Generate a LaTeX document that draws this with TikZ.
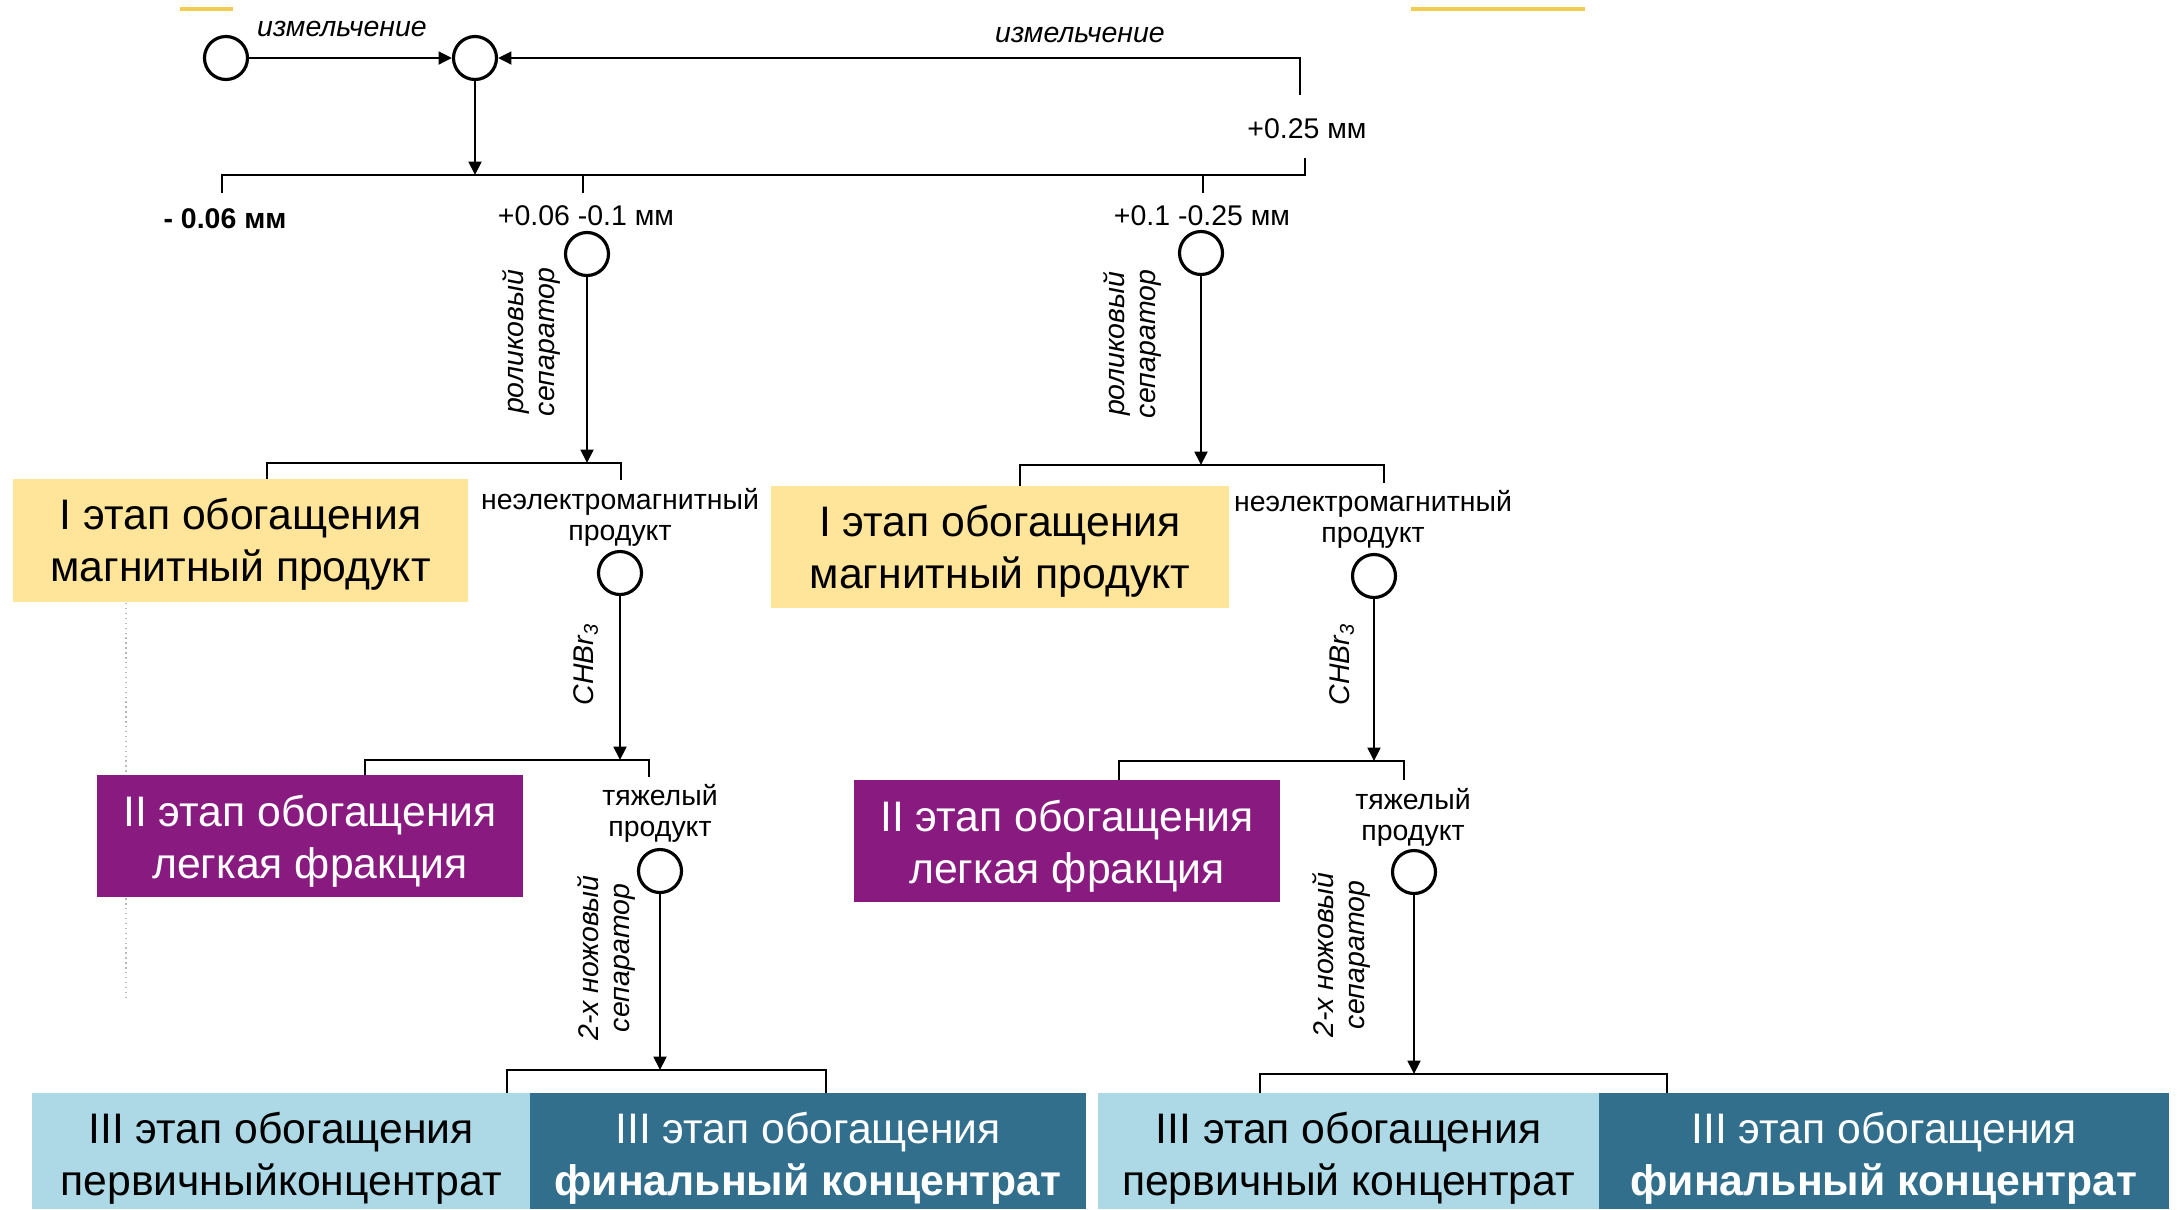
\documentclass[tikz,border=0pt]{standalone}
\usepackage{fontspec}
\setmainfont{Liberation Sans}
\usetikzlibrary{arrows.meta}

\definecolor{stageone}{RGB}{255,229,153}
\definecolor{stagetwo}{RGB}{137,26,128}
\definecolor{stagethreea}{RGB}{173,216,230}
\definecolor{stagethreeb}{RGB}{49,111,140}
\definecolor{cropmark}{RGB}{240,204,80}
\newcommand{\lblfont}{\fontsize{8.1}{8.8}\selectfont}
\newcommand{\stagefont}{\fontsize{12.15}{14.8}\selectfont}

\begin{document}
\begin{tikzpicture}[
    line width=0.8pt,
    pt/.style={shape=circle, draw=black, line width=0.9pt, minimum size=0.43cm, inner sep=0pt},
    flow/.style={-{Triangle[length=3.8pt,width=3.6pt]}},
    lbl/.style={font=\lblfont, align=center, inner sep=0pt},
    op/.style={font=\lblfont\itshape, align=center, inner sep=0pt, rotate=90},
    stage/.style={shape=rectangle, inner sep=0pt},
    stagetxt/.style={align=center, inner sep=0pt, font=\stagefont},
]
	\useasboundingbox (0,0) rectangle (21.77,-12.09);

	\draw[cropmark, line width=1pt] (1.80,-0.09) -- (2.33,-0.09);
	\draw[cropmark, line width=1pt] (14.11,-0.09) -- (15.85,-0.09);
	\draw[gray!55, line width=0.4pt, densely dotted] (1.26,-6.03) -- (1.26,-10.00);

	\node[pt] (cA) at (2.26,-0.58) {};
	\node[pt] (cB) at (4.75,-0.58) {};
	\node[lbl, font=\lblfont\itshape] (grind1) at (3.42,-0.29) {измельчение};
	\node[lbl, font=\lblfont\itshape] (grind2) at (10.80,-0.35) {измельчение};
	\coordinate (rt) at (13.00,-0.58);
	\coordinate (rb) at (13.00,-0.95);
	\path [flow] (cA) edge (cB);
	\draw [flow] (rb) -- (rt) -- (cB);

	\node[lbl] (coarse) at (13.07,-1.29) {+0.25 мм};
	\coordinate (split) at (4.75,-1.75);
	\coordinate (fineL) at (2.22,-1.93);
	\coordinate (coarseR) at (13.05,-1.58);
	\draw [flow] (cB) -- (split);
	\draw (fineL) |- (coarseR |- split) -- (coarseR);
	\draw (5.83,-1.75) -- (5.83,-1.93);
	\draw (12.03,-1.75) -- (12.03,-1.93);
	\node[lbl, font=\lblfont\bfseries] (fine) at (2.25,-2.19) {- 0.06 мм};
	\node[lbl] (midA) at (5.86,-2.16) {+0.06 -0.1 мм};
	\node[lbl] (midB) at (12.02,-2.16) {+0.1 -0.25 мм};

	% left branch
	\node[pt] (c1) at (5.87,-2.54) {};
	\node[op] at (5.31,-3.42) {роликовый\\сепаратор};
	\coordinate (s1) at (5.87,-4.63);
	\draw [flow] (c1) -- (s1);
	\node[stage, fill=stageone, minimum width=4.55cm, minimum height=1.23cm,
	      label={[stagetxt, yshift=-0.04cm]center:{I этап обогащения\\магнитный продукт}}] (y1) at (2.405,-5.405) {};
	\draw (2.67,-4.79) |- (6.21,-4.63) -- (6.21,-4.80);
	\node[lbl] (ne1) at (6.20,-5.17) {неэлектромагнитный\\продукт};
	\node[pt] (c3) at (6.20,-5.73) {};
	\node[op] at (5.86,-6.64) {CHBr\textsubscript{3}};
	\coordinate (s3) at (6.20,-7.60);
	\draw [flow] (c3) -- (s3);
	\node[stage, fill=stagetwo, minimum width=4.26cm, minimum height=1.22cm,
	      label={[stagetxt, text=white, yshift=-0.05cm]center:{II этап обогащения\\легкая фракция}}] (p1) at (3.10,-8.36) {};
	\draw (3.65,-7.75) |- (6.49,-7.60) -- (6.49,-7.77);
	\node[lbl] (hv1) at (6.60,-8.13) {тяжелый\\продукт};
	\node[pt] (c4) at (6.60,-8.71) {};
	\node[op] at (6.06,-9.58) {2-х ножовый\\сепаратор};
	\coordinate (s4) at (6.60,-10.70);
	\draw [flow] (c4) -- (s4);
	\draw (5.07,-10.93) |- (8.26,-10.70) -- (8.26,-10.93);

	% right branch
	\node[pt] (c2) at (12.01,-2.53) {};
	\node[op] at (11.32,-3.44) {роликовый\\сепаратор};
	\coordinate (s2) at (12.01,-4.65);
	\draw [flow] (c2) -- (s2);
	\node[stage, fill=stageone, minimum width=4.58cm, minimum height=1.22cm,
	      label={[stagetxt, yshift=-0.04cm]center:{I этап обогащения\\магнитный продукт}}] (y2) at (10.00,-5.47) {};
	\draw (10.20,-4.86) |- (13.84,-4.65) -- (13.84,-4.83);
	\node[lbl] (ne2) at (13.73,-5.19) {неэлектромагнитный\\продукт};
	\node[pt] (c5) at (13.74,-5.76) {};
	\node[op] at (13.42,-6.64) {CHBr\textsubscript{3}};
	\coordinate (s5) at (13.74,-7.61);
	\draw [flow] (c5) -- (s5);
	\node[stage, fill=stagetwo, minimum width=4.26cm, minimum height=1.22cm,
	      label={[stagetxt, text=white, yshift=-0.05cm]center:{II этап обогащения\\легкая фракция}}] (p2) at (10.67,-8.41) {};
	\draw (11.19,-7.80) |- (14.04,-7.61) -- (14.04,-7.80);
	\node[lbl] (hv2) at (14.13,-8.17) {тяжелый\\продукт};
	\node[pt] (c6) at (14.14,-8.72) {};
	\node[op] at (13.41,-9.55) {2-х ножовый\\сепаратор};
	\coordinate (s6) at (14.14,-10.74);
	\draw [flow] (c6) -- (s6);
	\draw (12.60,-10.93) |- (16.67,-10.74) -- (16.67,-10.93);

	% stage III
	\node[stage, fill=stagethreea, minimum width=4.98cm, minimum height=1.16cm,
	      label={[stagetxt, yshift=-0.07cm]center:{III этап обогащения\\первичныйконцентрат}}] (l1) at (2.81,-11.51) {};
	\node[stage, fill=stagethreeb, minimum width=5.56cm, minimum height=1.16cm,
	      label={[stagetxt, text=white, yshift=-0.07cm]center:{III этап обогащения\\\textbf{финальный концентрат}}}] (d1) at (8.08,-11.51) {};
	\node[stage, fill=stagethreea, minimum width=5.01cm, minimum height=1.16cm,
	      label={[stagetxt, yshift=-0.07cm]center:{III этап обогащения\\первичный концентрат}}] (l2) at (13.485,-11.51) {};
	\node[stage, fill=stagethreeb, minimum width=5.70cm, minimum height=1.16cm,
	      label={[stagetxt, text=white, yshift=-0.07cm]center:{III этап обогащения\\\textbf{финальный концентрат}}}] (d2) at (18.84,-11.51) {};
\end{tikzpicture}
\end{document}
